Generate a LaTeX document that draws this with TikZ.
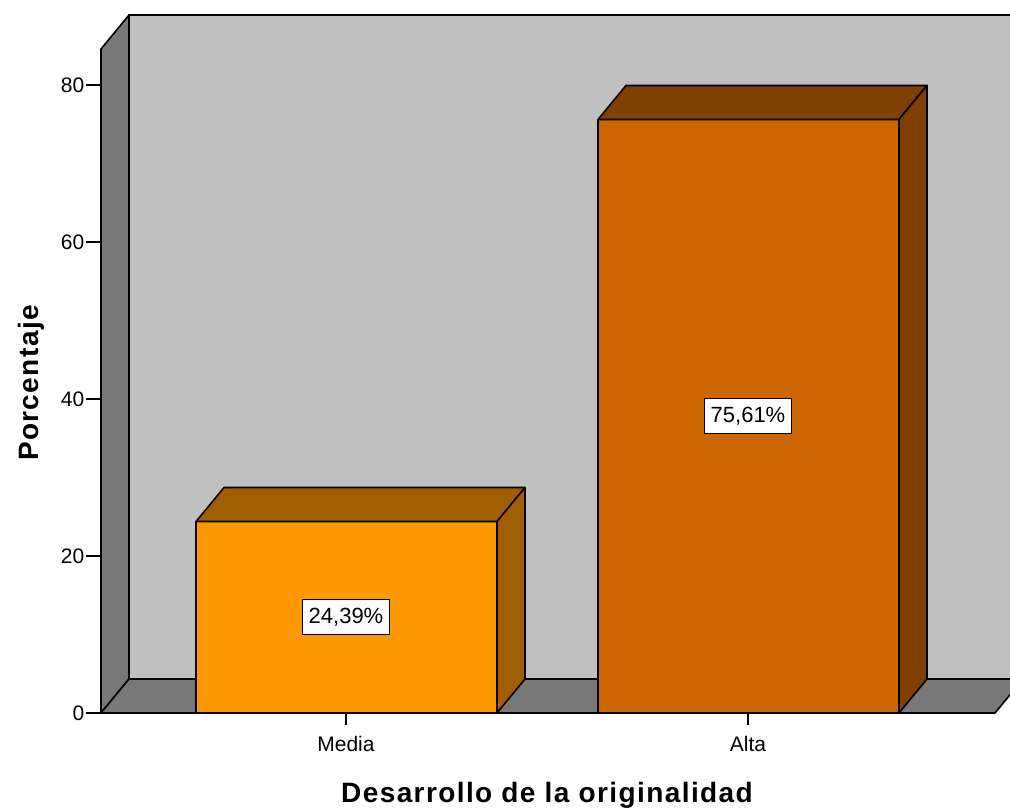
\documentclass[tikz,border=0pt]{standalone}
\usepackage{fontspec}
\setmainfont{Liberation Sans}
\newfontfamily\axisfont[LetterSpace=5]{Liberation Sans}
\usetikzlibrary{positioning}
\definecolor{wallgray}{HTML}{C0C0C0}
\definecolor{sidegray}{HTML}{787878}
\definecolor{mediafront}{HTML}{FF9900}
\definecolor{mediadark}{HTML}{A05F00}
\definecolor{altafront}{HTML}{CC6600}
\definecolor{altadark}{HTML}{7F3F00}
\tikzstyle{face} = [draw,line width=1.6pt,line join=round]
\tikzstyle{tick} = [-,line width=1.4pt]
\tikzstyle{ticklbl} = [inner sep=1pt,font=\fontsize{21}{21}\selectfont]
\tikzstyle{pct} = [draw,fill=white,line width=1.4pt,minimum width=87pt,minimum height=35pt,inner sep=0pt,font=\fontsize{22}{22}\selectfont]
\tikzstyle{axtitle} = [inner sep=0pt,font=\axisfont\bfseries\fontsize{28}{28}\selectfont]
\def \dx {28}
\def \dy {34}
\def \vs {7.85}
% bar: left, right, value, front colour, dark colour
\newcommand{\drawbar}[5]{%
  \pgfmathsetmacro\ytop{713-\vs*#3}
  \draw[face,fill=#4] (#1,713) rectangle (#2,\ytop);
  \draw[face,fill=#5] (#1,\ytop) -- ++(\dx,-\dy) -- (#2+\dx,\ytop-\dy) -- (#2,\ytop) -- cycle;
  \draw[face,fill=#5] (#2,713) -- (#2,\ytop) -- (#2+\dx,\ytop-\dy) -- (#2+\dx,713-\dy) -- cycle;
}

\begin{document}
\begin{tikzpicture}[x=1pt,y=-1pt]
      \useasboundingbox (0,0) rectangle (1010,808);
      \clip (0,0) rectangle (1010,808);
      % walls and floor
      \draw[face,fill=wallgray] (129,15) rectangle (1060,679);
      \draw[face,fill=sidegray] (101,713) -- (101,49) -- (129,15) -- (129,679) -- cycle;
      \draw[face,fill=sidegray] (101,713) -- (129,679) -- (1023,679) -- (995,713) -- cycle;
      % bars
      \drawbar{196}{497}{24.39}{mediafront}{mediadark}
      \drawbar{598}{899}{75.61}{altafront}{altadark}
      % y axis
      \foreach \v in {0,20,...,80} {
        \coordinate (yt\v) at (101,{713-\vs*\v});
        \draw[tick] (yt\v) -- +(-15,0) node[ticklbl,left] (ylbl\v) {\v};
      }
      % x axis
      \coordinate (xtmedia) at (346,713);
      \coordinate (xtalta) at (748,713);
      \draw[tick] (xtmedia) -- +(0,12);
      \draw[tick] (xtalta) -- +(0,12);
      \node[ticklbl,anchor=base] (media) at (346,751) {Media};
      \node[ticklbl,anchor=base] (alta) at (748,751) {Alta};
      % value labels
      \node[pct] (pctmedia) at (346,617) {24,39\%};
      \node[pct] (pctalta) at (748,416) {75,61\%};
      % axis titles
      \node[axtitle,rotate=90,anchor=base] (ytitle) at (38,383) {Porcentaje};
      \node[axtitle,anchor=base] (xtitle) at (547,802) {Desarrollo de la originalidad};
    \end{tikzpicture}
\end{document}
